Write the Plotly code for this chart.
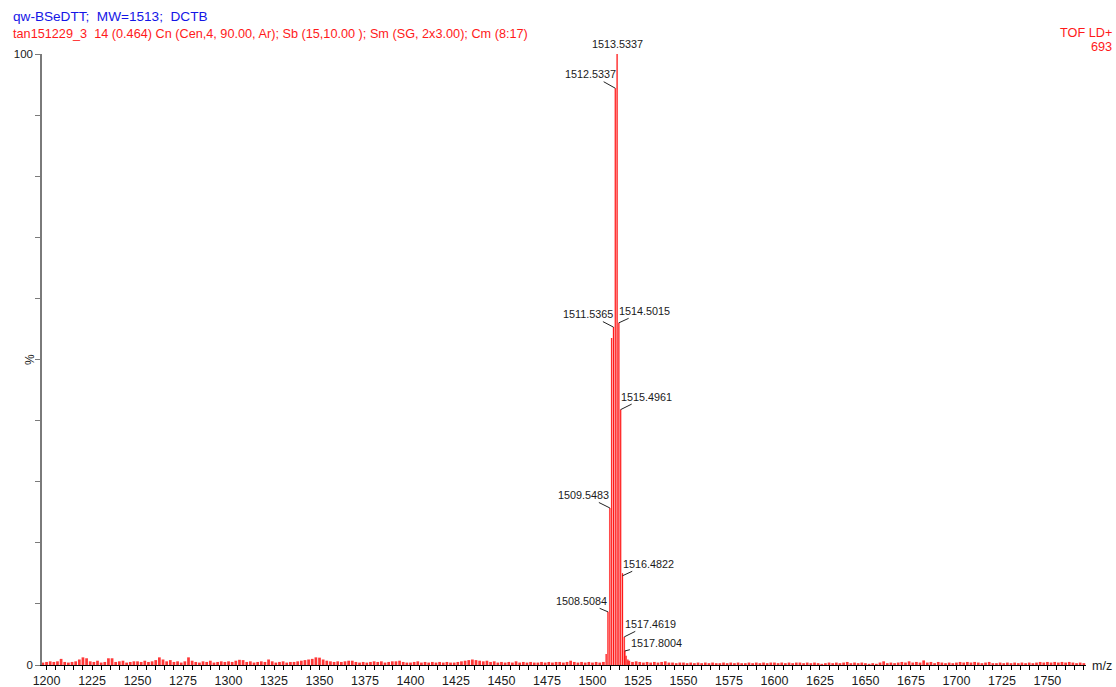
import plotly.graph_objects as go

# ---------------- data ----------------
# baseline noise, 2-unit spacing (m/z 1198 .. 1506 and 1520 .. 1770), % intensity
noise_mz_lo = list(range(1198, 1507, 2))
noise_lo = [
    0.4,
    0.5, 0.6, 0.5, 0.6, 1.0, 0.5, 0.4, 0.5, 0.6, 0.9, 1.25, 1.1, 0.6, 0.5, 0.7, 0.4, 0.5, 1.1, 1.1, 0.5, 0.6, 0.7, 0.4, 0.5, 0.6,
    0.6, 0.5, 0.7, 0.5, 0.6, 0.8, 1.25, 0.9, 0.6, 0.8, 0.5, 0.6, 0.4, 0.6, 1.25, 0.7, 0.5, 0.4, 0.6, 0.5, 0.7, 0.4, 0.5, 0.6, 0.5,
    0.6, 0.5, 0.7, 0.85, 0.8, 0.5, 0.6, 0.4, 0.5, 0.6, 0.5, 0.9, 0.6, 0.4, 0.5, 0.6, 0.4, 0.5, 0.5, 0.6, 0.7, 0.8, 0.9, 1.0, 1.25,
    1.2, 0.9, 0.7, 0.6, 0.5, 0.6, 0.5, 0.6, 0.7, 0.7, 0.5, 0.4, 0.5, 0.4, 0.5, 0.6, 0.5, 0.6, 0.4, 0.5, 0.6, 0.6, 0.7, 0.5, 0.4,
    0.4, 0.5, 0.6, 0.4, 0.5, 0.4, 0.5, 0.4, 0.5, 0.4, 0.5, 0.4, 0.4, 0.5, 0.6, 0.7, 0.8, 0.9, 0.8, 0.7, 0.6, 0.7, 0.5, 0.6, 0.4,
    0.5, 0.4, 0.5, 0.4, 0.6, 0.4, 0.5, 0.4, 0.5, 0.4, 0.4, 0.5, 0.4, 0.5, 0.4, 0.5, 0.5, 0.4, 0.5, 0.7, 0.5, 0.4, 0.5, 0.4, 0.5,
    0.4, 0.5, 0.4, 0.5,
]
noise_mz_hi = list(range(1520, 1771, 2))
noise_hi = [
    0.7, 0.5, 0.6, 0.5, 0.4, 0.5, 0.4, 0.5, 0.4, 0.5, 0.6, 0.4, 0.4, 0.3, 0.4,
    0.4, 0.3, 0.4, 0.3, 0.4, 0.3, 0.4, 0.3, 0.4, 0.3, 0.3, 0.4, 0.3, 0.4, 0.3, 0.4, 0.3, 0.3, 0.4, 0.3, 0.4, 0.3, 0.4, 0.3, 0.4,
    0.4, 0.3, 0.4, 0.3, 0.4, 0.3, 0.4, 0.4, 0.3, 0.4, 0.3, 0.4, 0.3, 0.2, 0.3, 0.4, 0.3, 0.4, 0.3, 0.4, 0.5, 0.3, 0.4, 0.3, 0.4,
    0.3, 0.2, 0.3, 0.2, 0.4, 0.6, 0.3, 0.4, 0.3, 0.4, 0.5, 0.4, 0.6, 0.4, 0.5, 0.4, 0.75, 0.4, 0.5, 0.3, 0.5, 0.4, 0.3, 0.4, 0.3,
    0.4, 0.5, 0.4, 0.5, 0.4, 0.5, 0.4, 0.3, 0.4, 0.5, 0.3, 0.3, 0.4, 0.3, 0.4, 0.3, 0.4, 0.3, 0.4, 0.3, 0.4, 0.3, 0.4, 0.5, 0.4,
    0.5, 0.4, 0.5, 0.4, 0.5, 0.4, 0.5, 0.4, 0.3, 0.4, 0.3,
]

# isotope cluster
cluster_mz = [1507.52, 1508.5084, 1509.5483, 1510.54, 1511.5365, 1512.5337, 1513.5337,
              1514.5015, 1515.4961, 1516.4822, 1517.4619, 1517.8004, 1518.48, 1519.45]
cluster_int = [1.8, 8.7, 25.7, 53.5, 55.3, 94.4, 100.0, 56.0, 41.8, 15.0, 4.6, 2.3, 1.5, 0.9]

# labelled peaks: (m/z, intensity, label dx px, label dy px)
label_mz = [1512.5337, 1511.5365, 1514.5015, 1515.4961, 1509.5483, 1516.4822, 1508.5084, 1517.4619, 1517.8004]
label_int = [94.4, 55.3, 56.0, 41.8, 25.7, 14.6, 8.7, 4.6, 2.3]
label_dx = [-25, -25, 26, 26, -26, 26, -26, 26, 32]
label_dy = [-14, -13, -12, -13, -13, -12, -11, -13, -8]
top_label_mz = 1513.5337
top_label_int = 100.0

x_ticks = list(range(1200, 1751, 25))
y_ticks = list(range(0, 101, 10))

header1 = "qw-BSeDTT;  MW=1513;  DCTB"
header2 = "tan151229_3  14 (0.464) Cn (Cen,4, 90.00, Ar); Sb (15,10.00 ); Sm (SG, 2x3.00); Cm (8:17)"
mode_txt = "TOF LD+"
count_txt = "693"

# ---------------- figure ----------------
W, H = 1116, 687
L, R, T, B = 42, 30, 54, 22
pw, ph = W - L - R, H - T - B


def px(x):
    return (x - L) / pw


def py(y):
    return (H - B - y) / ph


fig = go.Figure()
fig.add_trace(go.Bar(x=noise_mz_lo + noise_mz_hi, y=noise_lo + noise_hi, width=1.5,
                     marker=dict(color="rgba(255,20,20,0.85)", line=dict(width=0)),
                     hoverinfo="x+y"))
# soft profile body of the isotope peaks
fig.add_trace(go.Bar(x=cluster_mz, y=cluster_int, width=1.0,
                     marker=dict(color="rgba(255,110,110,0.55)", line=dict(width=0)),
                     hoverinfo="skip"))
fig.add_trace(go.Bar(x=cluster_mz, y=cluster_int, width=0.5,
                     marker=dict(color="rgba(255,0,0,0.95)", line=dict(width=0)),
                     hoverinfo="x+y"))

ann = []
lab_font = dict(family="Liberation Sans, Arial", size=10.8, color="#1a1a1a")
for m, v, dx, dy in zip(label_mz, label_int, label_dx, label_dy):
    ann.append(dict(x=m, y=v, xref="x", yref="y", text=f"{m:.4f}", showarrow=True,
                    arrowhead=0, arrowwidth=1, arrowcolor="#222222", ax=dx, ay=dy,
                    standoff=0, startstandoff=0, font=lab_font))
ann.append(dict(x=top_label_mz, y=top_label_int, xref="x", yref="y", text=f"{top_label_mz:.4f}",
                showarrow=False, yanchor="bottom", yshift=2, font=lab_font))

hfont = dict(family="Liberation Sans, Arial", size=12.7)
ann.append(dict(x=px(11), y=py(17), xref="paper", yref="paper", text=header1, showarrow=False,
                xanchor="left", yanchor="middle", font=dict(hfont, color="#1515e6", size=13.6)))
ann.append(dict(x=px(11), y=py(34), xref="paper", yref="paper", text=header2, showarrow=False,
                xanchor="left", yanchor="middle", font=dict(hfont, color="#ff1a1a")))
ann.append(dict(x=px(1114), y=py(33), xref="paper", yref="paper", text=mode_txt, showarrow=False,
                xanchor="right", yanchor="middle", font=dict(hfont, color="#ff1a1a")))
ann.append(dict(x=px(1114), y=py(47), xref="paper", yref="paper", text=count_txt, showarrow=False,
                xanchor="right", yanchor="middle", font=dict(hfont, color="#ff1a1a")))
ann.append(dict(x=px(1102), y=py(666), xref="paper", yref="paper", text="m/z", showarrow=False,
                xanchor="center", yanchor="middle",
                font=dict(family="Liberation Sans, Arial", size=12.5, color="#1a1a1a")))
ann.append(dict(x=px(30), y=py(360), xref="paper", yref="paper", text="%", showarrow=False,
                textangle=-90, xanchor="center", yanchor="middle",
                font=dict(family="Liberation Sans, Arial", size=12, color="#1a1a1a")))

fig.update_layout(
    width=W, height=H, margin=dict(l=L, r=R, t=T, b=B, pad=0, autoexpand=False),
    paper_bgcolor="white", plot_bgcolor="white", showlegend=False,
    barmode="overlay", annotations=ann,
    font=dict(family="Liberation Sans, Arial", color="#1a1a1a"),
)
fig.update_xaxes(range=[1197.5, 1771.2], showgrid=False, zeroline=False, automargin=False,
                 showline=True, linecolor="#000000", linewidth=1,
                 ticks="outside", ticklen=4, tickcolor="#000000", tickwidth=1,
                 tickvals=x_ticks, ticktext=[str(v) for v in x_ticks],
                 minor=dict(dtick=5, ticks="outside", ticklen=4, tickcolor="#000000", tickwidth=1, showgrid=False),
                 tickfont=dict(size=12.5, family="Liberation Sans, Arial", color="#1a1a1a"))
fig.update_yaxes(range=[0, 100], showgrid=False, zeroline=False, automargin=False,
                 showline=True, linecolor="#7a7a7a", linewidth=1.5,
                 ticks="outside", ticklen=5, tickcolor="#7a7a7a", tickwidth=1,
                 tickvals=y_ticks,
                 ticktext=["0" if v == 0 else ("100" if v == 100 else "") for v in y_ticks],
                 tickfont=dict(size=11.5, family="Liberation Sans, Arial", color="#1a1a1a"))

fig.write_html("out.html")
